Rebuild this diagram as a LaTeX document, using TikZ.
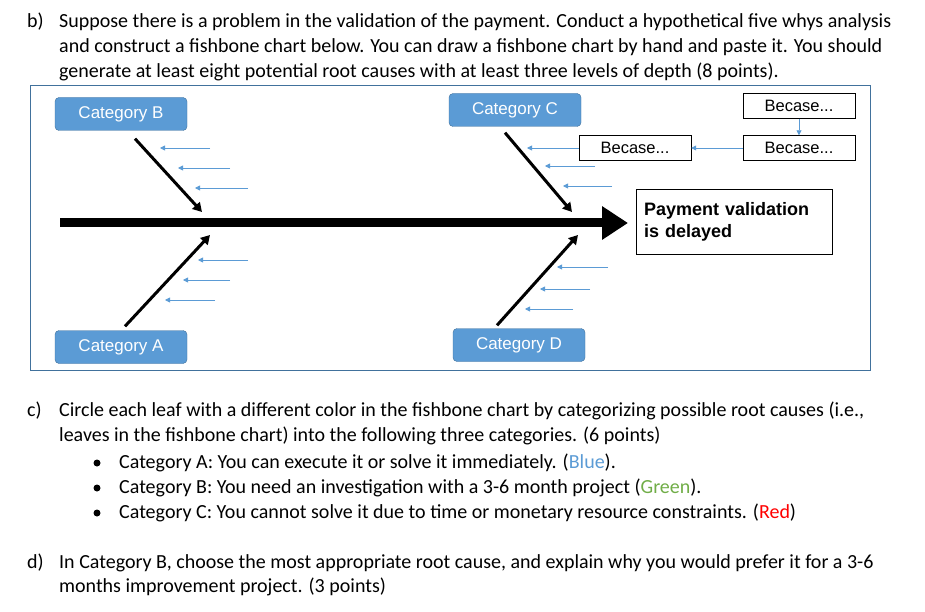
\documentclass[tikz,border=0pt]{standalone}
\usepackage{fontspec}
\setmainfont{Carlito}
\newfontfamily\arialfont{Liberation Sans}
\usetikzlibrary{arrows.meta}
\definecolor{catblue}{HTML}{5B9BD5}
\definecolor{catedge}{HTML}{41719C}
\definecolor{greentxt}{HTML}{70AD47}
\tikzset{
  cat/.style={rectangle, rounded corners=4pt, draw=catedge, fill=catblue, text=white, font=\arialfont\fontsize{17}{19}\selectfont, minimum width=132pt, minimum height=33pt},
  because/.style={rectangle, draw=black, font=\arialfont\fontsize{16.5}{19}\selectfont, minimum width=112pt, minimum height=25pt},
  bone/.style={line width=3pt, -{Triangle[length=9pt,width=10pt]}},
  twig/.style={draw=catblue, line width=0.8pt, -{Triangle[length=5pt,width=5pt]}},
  txt/.style={anchor=west, inner sep=0pt, font=\fontsize{20}{23}\selectfont}
}
\begin{document}
\begin{tikzpicture}[x=1pt, y=-1pt]
    \def\vert{25}
    \useasboundingbox (0,0) rectangle (925,612);

    % Question b
    \node[txt] (qb) at (27,22) {b)};
    \node[txt] (b1) at (59,22) {Suppose there is a problem in the validation of the payment. Conduct a hypothetical five whys analysis};
    \node[txt] (b2) at (59,22+\vert) {and construct a fishbone chart below. You can draw a fishbone chart by hand and paste it. You should};
    \node[txt] (b3) at (59,22+2*\vert) {generate at least eight potential root causes with at least three levels of depth (8 points).};

    % Frame
    \draw[catedge, line width=1pt] (30,86) rectangle (870,370);

    % Nodes
    \node[cat] (catB) at (121,114) {Category B};
    \node[cat] (catC) at (515,110) {Category C};
    \node[cat] (catA) at (121,347) {Category A};
    \node[cat] (catD) at (519,345) {Category D};
    \node[rectangle, draw=black, align=left, font=\arialfont\bfseries\fontsize{18}{22}\selectfont, minimum width=196pt, minimum height=65pt, text width=180pt] (effect) at (734,222) {Payment validation\\is delayed};
    \node[because] (bc1) at (635,148) {Becase...};
    \node[because] (bc2) at (799,148) {Becase...};
    \node[because] (bc3) at (799,106) {Becase...};

    \coordinate (tail) at (60,223);
    \coordinate (head) at (628,223);
    \coordinate (jB) at (202,212);
    \coordinate (jC) at (572,212);
    \coordinate (jA) at (210,235);
    \coordinate (jD) at (578,235);

    % Edges
    \draw[line width=9pt, -{Triangle[length=26pt,width=32pt]}] (tail) -- (head);
    \draw[bone] (catB.south) ++(14,8) coordinate (sB) -- (jB);
    \draw[bone] (catC.south) ++(-10,6) coordinate (sC) -- (jC);
    \draw[bone] (catA.north) ++(4,-4) coordinate (sA) -- (jA);
    \draw[bone] (catD.north) ++(-22,-3) coordinate (sD) -- (jD);

    % Causes
    \foreach \xa/\xb/\y in {160/210/148, 178/230/168, 195/248/188,
                            545/595/166, 563/612/186,
                            198/248/260, 183/230/280, 165/215/300,
                            557/608/267, 540/590/289, 525/573/309}
      \draw[twig] (\xb,\y) -- (\xa,\y);
    \coordinate (tC) at (527,148);
    \draw[twig] (bc1) -- (tC);
    \draw[twig] (bc2) -- (bc1);
    \draw[twig] (bc3) -- (bc2);

    % Question c
    \node[txt] (qc) at (27,411) {c)};
    \node[txt] (c1) at (59,411) {Circle each leaf with a different color in the fishbone chart by categorizing possible root causes (i.e.,};
    \node[txt] (c2) at (59,411+\vert) {leaves in the fishbone chart) into the following three categories. (6 points)};
    \foreach \i/\t in {0/{Category A: You can execute it or solve it immediately. ({\color{catblue}Blue}).},
                       1/{Category B: You need an investigation with a 3-6 month project ({\color{greentxt}Green}).},
                       2/{Category C: You cannot solve it due to time or monetary resource constraints. ({\color{red}Red})}} {
      \fill (97,463+\i*\vert) circle (3.5pt);
      \node[txt] (bul\i) at (119,463+\i*\vert) {\t};
    }

    % Question d
    \node[txt] (qd) at (27,563) {d)};
    \node[txt] (d1) at (59,563) {In Category B, choose the most appropriate root cause, and explain why you would prefer it for a 3-6};
    \node[txt] (d2) at (59,563+\vert-1) {months improvement project. (3 points)};
\end{tikzpicture}
\end{document}
